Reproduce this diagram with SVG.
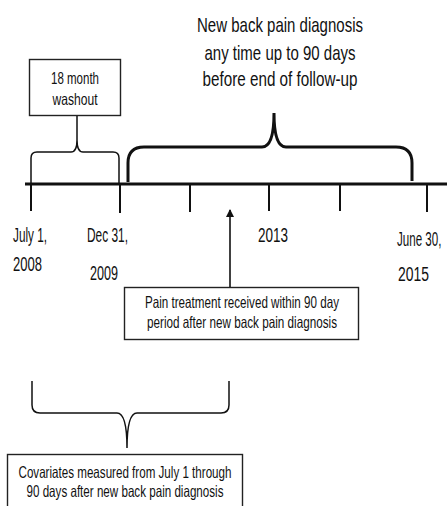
<svg xmlns="http://www.w3.org/2000/svg" width="447" height="506" viewBox="0 0 447 506">
<defs>
<style>
.t{font-family:"Liberation Sans",Arial,sans-serif;fill:#111;}
.big{font-size:21px;}
.box{font-size:16.5px;}
.lab{font-size:20px;}
.frame{fill:#fff;stroke:#222;stroke-width:1.4;}
.thin{fill:none;stroke:#111;stroke-width:1.5;}
.thick{fill:none;stroke:#111;stroke-width:3;}
.tick{stroke:#111;stroke-width:2;}
</style>
<marker id="ah" markerWidth="8" markerHeight="10" refX="7" refY="4" orient="auto" markerUnits="userSpaceOnUse" viewBox="0 0 8 8">
<path d="M0,0 L8,4 L0,8 Z" fill="#111"/>
</marker>
</defs>
<rect width="447" height="506" fill="#fff"/>

<g id="title">
<text class="t big" x="280" y="32" text-anchor="middle" textLength="166" lengthAdjust="spacingAndGlyphs">New back pain diagnosis</text>
<text class="t big" x="280" y="60" text-anchor="middle" textLength="151" lengthAdjust="spacingAndGlyphs">any time up to 90 days</text>
<text class="t big" x="280" y="86" text-anchor="middle" textLength="155" lengthAdjust="spacingAndGlyphs">before end of follow-up</text>
</g>

<g id="washout">
<rect class="frame" x="29.5" y="59.5" width="91" height="56"/>
<text class="t box" x="75" y="84" text-anchor="middle" textLength="48" lengthAdjust="spacingAndGlyphs">18 month</text>
<text class="t box" x="75" y="105" text-anchor="middle" textLength="45" lengthAdjust="spacingAndGlyphs">washout</text>
</g>

<g id="timeline">
<line x1="25" y1="184" x2="447" y2="184" stroke="#111" stroke-width="3"/>
<line class="tick" x1="31" y1="184" x2="31" y2="211"/>
<line class="tick" x1="120" y1="184" x2="120" y2="213"/>
<line class="tick" x1="190" y1="184" x2="190" y2="212"/>
<line class="tick" x1="269" y1="184" x2="269" y2="211"/>
<line class="tick" x1="340" y1="184" x2="340" y2="211"/>
<line class="tick" x1="427" y1="184" x2="427" y2="212"/>
<text class="t lab" x="13" y="242" textLength="34" lengthAdjust="spacingAndGlyphs">July 1,</text>
<text class="t lab" x="13" y="271" textLength="29" lengthAdjust="spacingAndGlyphs">2008</text>
<text class="t lab" x="87" y="242" textLength="41" lengthAdjust="spacingAndGlyphs">Dec 31,</text>
<text class="t lab" x="90" y="280" textLength="28" lengthAdjust="spacingAndGlyphs">2009</text>
<text class="t lab" x="258" y="242" textLength="30" lengthAdjust="spacingAndGlyphs">2013</text>
<text class="t lab" transform="translate(397,246) scale(0.58,1)">June 30,</text>
<text class="t lab" x="398" y="281" textLength="31" lengthAdjust="spacingAndGlyphs">2015</text>
</g>

<g id="treatment">
<rect class="frame" x="124.5" y="287.5" width="234" height="52"/>
<text class="t box" x="242" y="308" text-anchor="middle" textLength="194" lengthAdjust="spacingAndGlyphs">Pain treatment received within 90 day</text>
<text class="t box" x="242" y="328" text-anchor="middle" textLength="190" lengthAdjust="spacingAndGlyphs">period after new back pain diagnosis</text>
</g>

<g id="covariates">
<rect class="frame" x="7.5" y="454.5" width="235" height="70"/>
<text class="t box" x="125" y="478" text-anchor="middle" textLength="213" lengthAdjust="spacingAndGlyphs">Covariates measured from July 1 through</text>
<text class="t box" x="125" y="497" text-anchor="middle" textLength="197" lengthAdjust="spacingAndGlyphs">90 days after new back pain diagnosis</text>
</g>

<g id="connectors">
<path class="thin" d="M31,184 L31,158 Q31,152 37,152 L71,152 Q77,152 77,140 L77,116 M77,140 Q77,152 83,152 L113,152 Q119,152 119,158 L119,184"/>
<path class="thick" d="M128,182 L128,163 Q128,147 144,147 L262,147 Q274,147 274,113 Q274,147 286,147 L396,147 Q412,147 412,163 L412,181"/>
<path class="thin" d="M32,381 L32,405 Q32,413 40,413 L117,413 Q127,413 127,448 Q127,413 137,413 L221,413 Q229,413 229,405 L229,381"/>
<line x1="230" y1="287" x2="230" y2="210" stroke="#111" stroke-width="1.6" marker-end="url(#ah)"/>
</g>
</svg>
